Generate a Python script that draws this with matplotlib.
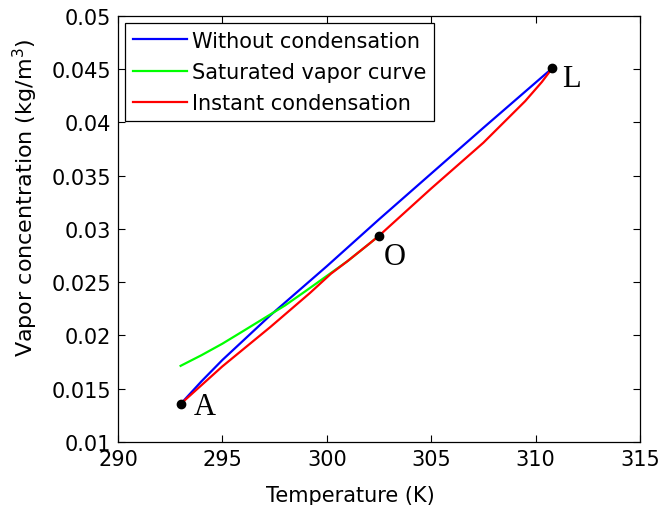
import matplotlib
matplotlib.use("Agg")
import matplotlib.pyplot as plt

# temperature (K) / vapor concentration (kg/m^3)
t_without = [293.0, 294.0, 295.0, 297.3, 300.0, 302.5, 305.0, 307.5, 310.8]
c_without = [0.01357, 0.0157, 0.0177, 0.0219, 0.0265, 0.0309, 0.0352, 0.0395, 0.0451]

t_sat = [293.0, 294.0, 295.0, 296.0, 297.0, 298.0, 299.0, 300.0, 301.0, 302.0, 302.5]
c_sat = [0.01715, 0.01815, 0.01923, 0.02042, 0.02162, 0.02282, 0.02419,
         0.02559, 0.02699, 0.02856, 0.02936]

t_instant = [293.0, 295.0, 297.3, 299.2, 300.2, 301.0, 302.0, 302.5,
             305.0, 307.5, 309.5, 310.3, 310.8]
c_instant = [0.01357, 0.0171, 0.0208, 0.0240, 0.0258, 0.02699, 0.02856, 0.02936,
             0.0338, 0.0381, 0.0420, 0.0438, 0.0451]

pt_t = [293.0, 302.5, 310.8]
pt_c = [0.01357, 0.02936, 0.0451]
pt_names = ["A", "O", "L"]
pt_offsets = [(13, -3), (5, -21), (10, -10)]

xticks = [290, 295, 300, 305, 310, 315]
yticks = [0.01, 0.015, 0.02, 0.025, 0.03, 0.035, 0.04, 0.045, 0.05]
ytick_labels = ["0.01", "0.015", "0.02", "0.025", "0.03", "0.035", "0.04", "0.045", "0.05"]

plt.rcParams["font.family"] = ["DejaVu Sans"]

fig = plt.figure(figsize=(6.65, 5.06), dpi=100)
ax = fig.add_axes([0.1774, 0.1245, 0.785, 0.842])

ax.plot(t_without, c_without, color=(0.0, 0.0, 1.0), lw=1.6, label="Without condensation")
ax.plot(t_sat, c_sat, color=(0.0, 1.0, 0.0), lw=1.6, label="Saturated vapor curve")
ax.plot(t_instant, c_instant, color=(1.0, 0.0, 0.0), lw=1.6, label="Instant condensation")
ax.plot(pt_t, pt_c, "o", color="k", ms=6, zorder=5)

for t, c, name, off in zip(pt_t, pt_c, pt_names, pt_offsets):
    ax.annotate(name, (t, c), xytext=off, textcoords="offset pixels",
                ha="left", va="center", fontsize=22, family="Liberation Serif")

ax.set_xlim(290, 315)
ax.set_ylim(0.01, 0.05)
ax.set_xticks(xticks)
ax.set_xticklabels([str(v) for v in xticks])
ax.set_yticks(yticks)
ax.set_yticklabels(ytick_labels)
ax.tick_params(direction="in", length=5, width=0.8, top=True, right=True,
               labelsize=15, pad=5)
for s in ax.spines.values():
    s.set_linewidth(0.9)

ax.set_xlabel("Temperature (K)", fontsize=15)
ax.xaxis.set_label_coords(0.445, -0.1)
ax.set_ylabel("Vapor concentration (kg/m$^3$)", fontsize=16)
ax.yaxis.set_label_coords(-0.15, 0.575)

leg = ax.legend(loc="upper left", fontsize=15, frameon=True, fancybox=False,
                framealpha=1, edgecolor="k", borderaxespad=0.35, borderpad=0.35,
                labelspacing=0.55, handlelength=2.6, handletextpad=0.25)
leg.get_frame().set_linewidth(0.9)

fig.savefig("out.png", dpi=100)
